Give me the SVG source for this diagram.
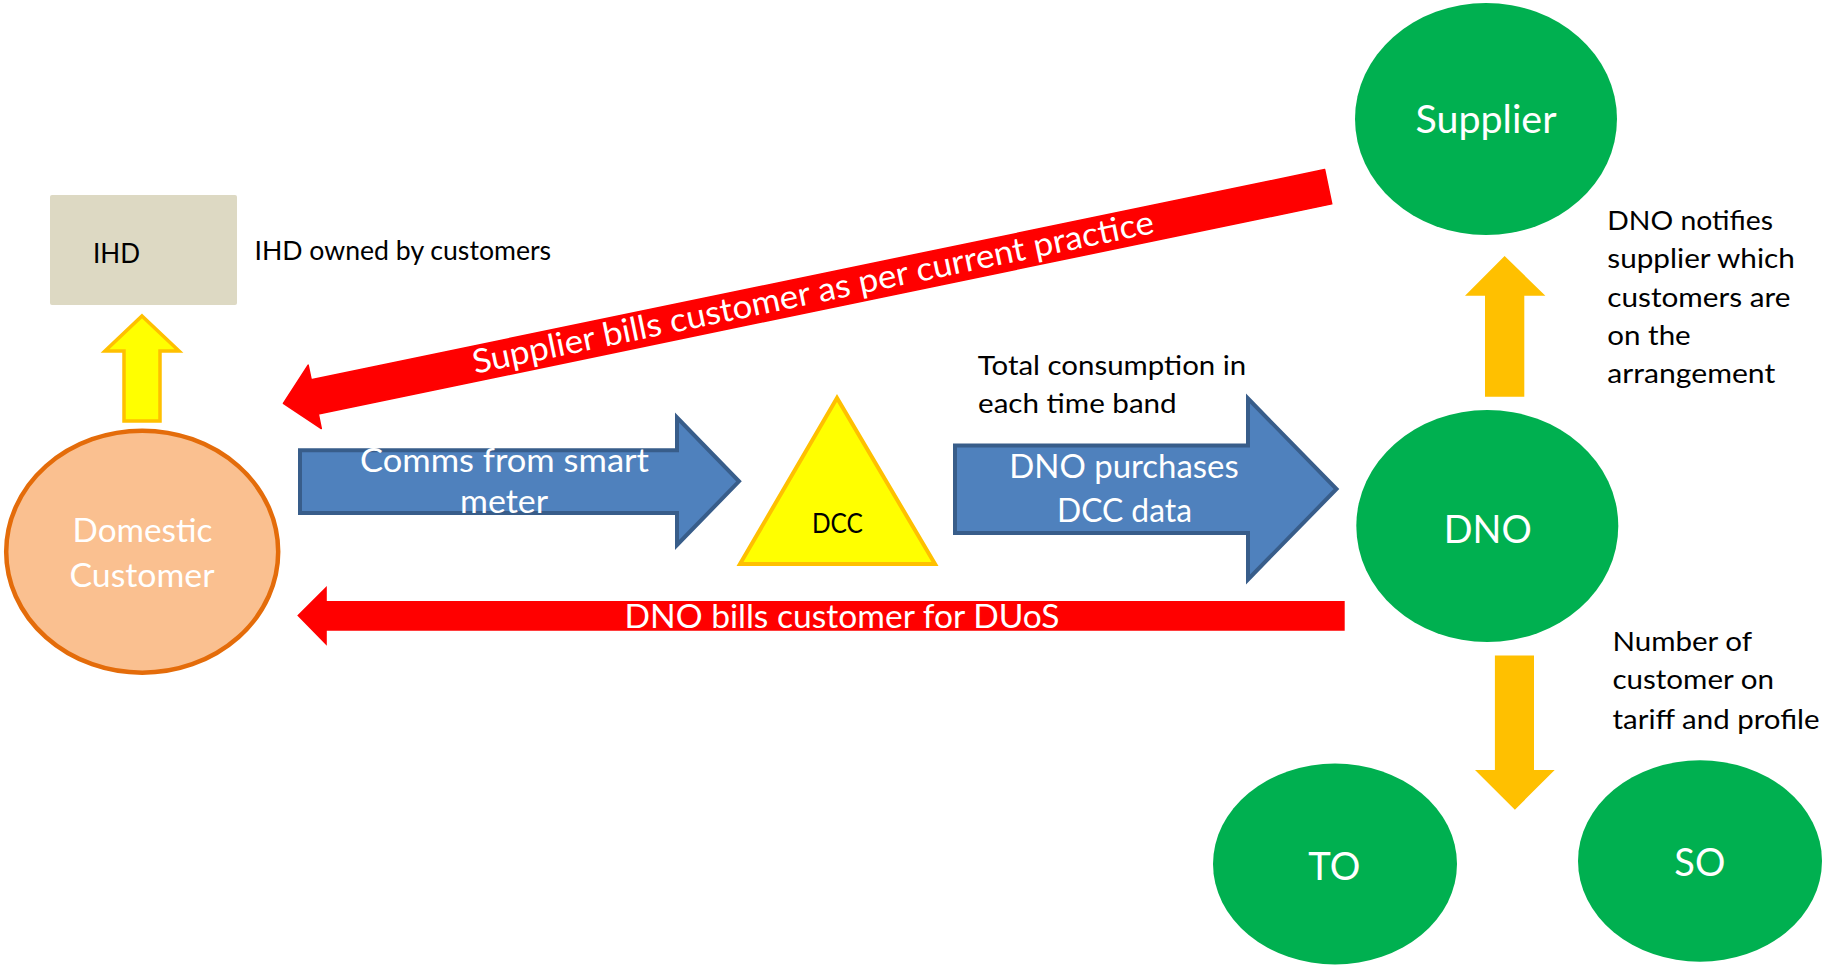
<svg xmlns="http://www.w3.org/2000/svg" width="1825" height="966" viewBox="0 0 1825 966">
  <style>
    text { font-family: Lato, "Liberation Sans", sans-serif; }
    .note { font-size: 27.5px; fill: #000000; }
    .small { font-size: 27px; fill: #000000; }
    .big { font-size: 33px; fill: #FFFFFF; }
    .node-label { font-size: 39px; fill: #FFFFFF; }
    .green { fill: #00B050; }
    .blue-arrow { fill: #4F81BD; stroke: #385D8A; stroke-width: 4; stroke-linejoin: miter; }
    .red-arrow { fill: #FF0000; }
    .amber-arrow { fill: #FFC000; }
    .mid { text-anchor: middle; }
  </style>

  <!-- In-home display -->
  <g id="ihd">
    <rect x="50" y="195" width="187" height="110" rx="2" fill="#DDD9C3"/>
    <text class="small" x="93" y="263" textLength="47" lengthAdjust="spacingAndGlyphs">IHD</text>
  </g>

  <!-- Domestic customer -->
  <g id="domestic-customer">
    <ellipse cx="142.2" cy="551.7" rx="136" ry="121" fill="#FAC090" stroke="#E46C0A" stroke-width="4.5"/>
    <text class="big mid" x="142.5" y="541.7" textLength="140" lengthAdjust="spacingAndGlyphs">Domestic</text>
    <text class="big mid" x="142" y="586.7" textLength="145" lengthAdjust="spacingAndGlyphs">Customer</text>
  </g>

  <!-- Data and Communications Company -->
  <g id="dcc">
    <polygon points="837,398 740,564 935,564" fill="#FFFF00" stroke="#FFC000" stroke-width="4" stroke-linejoin="miter"/>
    <text class="small mid" x="837.4" y="533.3" textLength="51" lengthAdjust="spacingAndGlyphs">DCC</text>
  </g>

  <!-- Supplier -->
  <g id="supplier">
    <ellipse class="green" cx="1486" cy="119" rx="131" ry="116"/>
    <text class="node-label mid" x="1486" y="133.3" textLength="141" lengthAdjust="spacingAndGlyphs">Supplier</text>
  </g>

  <!-- Distribution network operator -->
  <g id="dno">
    <ellipse class="green" cx="1487.3" cy="526" rx="131" ry="116"/>
    <text class="node-label mid" x="1487.8" y="542.6" textLength="88" lengthAdjust="spacingAndGlyphs">DNO</text>
  </g>

  <!-- Transmission owner -->
  <g id="to">
    <ellipse class="green" cx="1335" cy="864" rx="122" ry="100.5"/>
    <text class="node-label mid" x="1334.3" y="880" textLength="52" lengthAdjust="spacingAndGlyphs">TO</text>
  </g>

  <!-- System operator -->
  <g id="so">
    <ellipse class="green" cx="1700" cy="861" rx="122" ry="100.7"/>
    <text class="node-label mid" x="1699.8" y="875.8" textLength="51" lengthAdjust="spacingAndGlyphs">SO</text>
  </g>

  <!-- Connectors -->
  <g id="connectors">
    <!-- customer to IHD -->
    <polygon points="142,316 179,351 160,351 160,421 124,421 124,351 105,351" fill="#FFFF00" stroke="#FFC000" stroke-width="3.5" stroke-linejoin="miter"/>

    <!-- supplier bills customer -->
    <g transform="translate(283.4,403.3) rotate(-11.71)">
      <path class="red-arrow" d="M0,0 L32,-32.4 L32,-17.5 L1067,-17.5 L1067,17.5 L32,17.5 L32,32.4 Z" stroke="#FF0000" stroke-width="1.5" stroke-linejoin="round"/>
      <text class="big mid" x="541" y="10" textLength="695" lengthAdjust="spacingAndGlyphs">Supplier bills customer as per current practice</text>
    </g>

    <!-- smart meter comms to DCC -->
    <path class="blue-arrow" d="M300,450.3 H677 V417.5 L739,481.3 L677,545 V513 H300 Z"/>
    <text class="big mid" x="504.5" y="471.7" textLength="289" lengthAdjust="spacingAndGlyphs">Comms from smart</text>
    <text class="big mid" x="504" y="513.3" textLength="88" lengthAdjust="spacingAndGlyphs">meter</text>

    <!-- DCC data to DNO -->
    <path class="blue-arrow" d="M955,445.5 H1248 V398.5 L1336.5,489 L1248,579.5 V533 H955 Z"/>
    <text class="big mid" x="1124" y="478.3" textLength="229.5" lengthAdjust="spacingAndGlyphs">DNO purchases</text>
    <text class="big mid" x="1124.5" y="521.7" textLength="135" lengthAdjust="spacingAndGlyphs">DCC data</text>

    <!-- DNO bills customer -->
    <path class="red-arrow" d="M297.2,615.5 L326.8,586 V601 H1344.7 V630.7 H326.8 V645.7 Z"/>
    <text class="big mid" x="842" y="628.3" textLength="435" lengthAdjust="spacingAndGlyphs">DNO bills customer for DUoS</text>

    <!-- DNO notifies supplier -->
    <polygon class="amber-arrow" points="1504.6,256 1545.4,295.7 1524.3,295.7 1524.3,396.7 1485,396.7 1485,295.7 1465,295.7"/>

    <!-- DNO to TO / SO -->
    <polygon class="amber-arrow" points="1494.9,655.6 1534,655.6 1534,770 1554.7,770 1514.9,809.7 1475,770 1494.9,770"/>
  </g>

  <!-- Annotations -->
  <g id="annotations">
    <text class="note" x="254.5" y="260" textLength="296.6" lengthAdjust="spacingAndGlyphs">IHD owned by customers</text>

    <text class="note" x="977.7" y="375" textLength="268.6" lengthAdjust="spacingAndGlyphs">Total consumption in</text>
    <text class="note" x="978" y="412.5" textLength="198.7" lengthAdjust="spacingAndGlyphs">each time band</text>

    <text class="note" x="1607.3" y="230" textLength="165.7" lengthAdjust="spacingAndGlyphs">DNO notifies</text>
    <text class="note" x="1607.3" y="268.3" textLength="187.5" lengthAdjust="spacingAndGlyphs">supplier which</text>
    <text class="note" x="1607.3" y="306.7" textLength="183.1" lengthAdjust="spacingAndGlyphs">customers are</text>
    <text class="note" x="1607.3" y="345" textLength="83.4" lengthAdjust="spacingAndGlyphs">on the</text>
    <text class="note" x="1607.3" y="383.3" textLength="168" lengthAdjust="spacingAndGlyphs">arrangement</text>

    <text class="note" x="1612.5" y="650.9" textLength="139.5" lengthAdjust="spacingAndGlyphs">Number of</text>
    <text class="note" x="1612.5" y="688.8" textLength="161.4" lengthAdjust="spacingAndGlyphs">customer on</text>
    <text class="note" x="1612.5" y="728.5" textLength="207" lengthAdjust="spacingAndGlyphs">tariff and profile</text>
  </g>
</svg>
